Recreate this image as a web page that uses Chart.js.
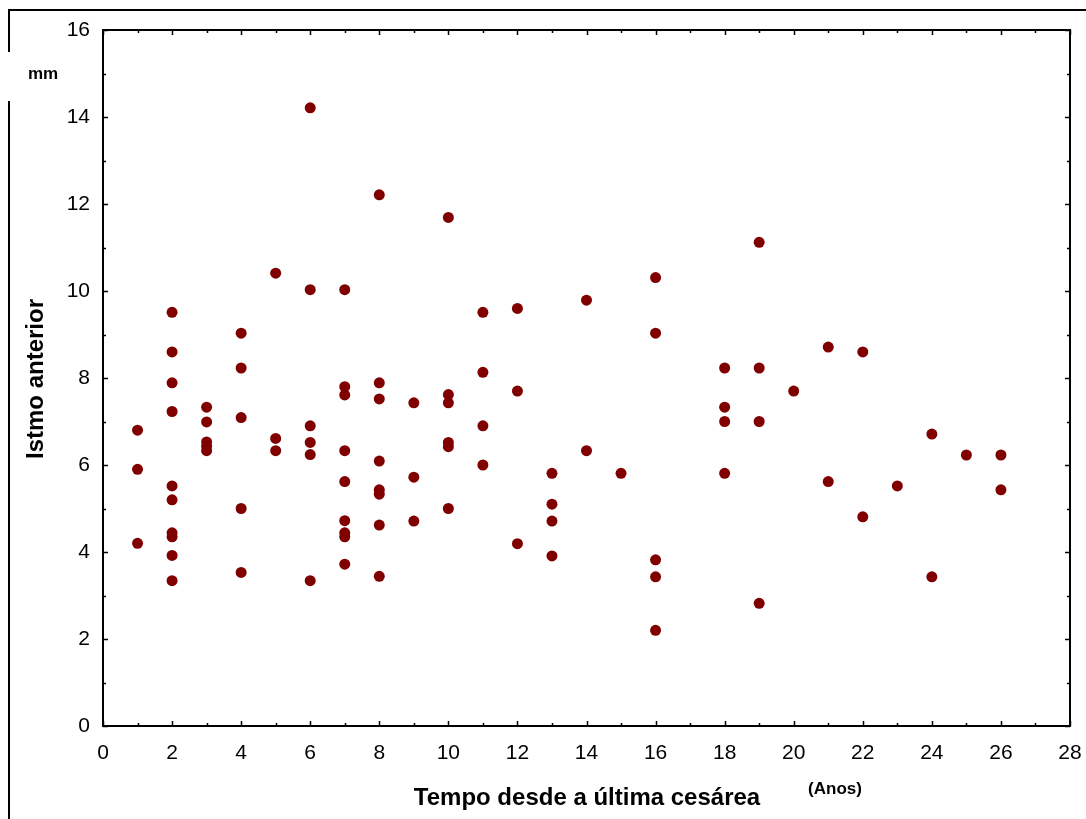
<!DOCTYPE html>
<html>
<head>
<meta charset="utf-8">
<script src="https://cdn.jsdelivr.net/npm/chart.js@4"></script>
<style>
  html, body { margin: 0; padding: 0; background: #fff; }
  #wrap { width: 1086px; height: 819px; }
</style>
</head>
<body>
<div id="wrap"><canvas id="grafico"></canvas></div>
<script>
// dados: tempo (anos) x istmo anterior (mm)
var tempoAnos = [
  1, 1, 1,
  2, 2, 2, 2, 2, 2, 2, 2, 2, 2,
  3, 3, 3, 3, 3,
  4, 4, 4, 4, 4,
  5, 5, 5,
  6, 6, 6, 6, 6, 6,
  7, 7, 7, 7, 7, 7, 7, 7, 7,
  8, 8, 8, 8, 8, 8, 8, 8,
  9, 9, 9,
  10, 10, 10, 10, 10, 10,
  11, 11, 11, 11,
  12, 12, 12,
  13, 13, 13, 13,
  14, 14,
  15,
  16, 16, 16, 16, 16,
  18, 18, 18, 18,
  19, 19, 19, 19,
  20,
  21, 21,
  22, 22,
  23,
  24, 24,
  25,
  26, 26
];
var istmoMm = [
  6.80, 5.90, 4.20,
  9.51, 8.60, 7.89, 7.23, 5.52, 5.20, 4.44, 4.35, 3.92, 3.34,
  7.33, 6.99, 6.53, 6.43, 6.33,
  9.03, 8.23, 7.09, 5.00, 3.53,
  10.41, 6.61, 6.33,
  14.21, 10.03, 6.90, 6.52, 6.24, 3.34,
  10.03, 7.80, 7.61, 6.33, 5.62, 4.72, 4.44, 4.35, 3.72,
  12.21, 7.89, 7.52, 6.09, 5.43, 5.33, 4.62, 3.44,
  7.43, 5.72, 4.71,
  11.69, 7.62, 7.43, 6.52, 6.42, 5.00,
  9.51, 8.13, 6.90, 6.00,
  9.60, 7.70, 4.19,
  5.81, 5.10, 4.71, 3.91,
  9.79, 6.33,
  5.81,
  10.31, 9.03, 3.82, 3.43, 2.20,
  8.23, 7.33, 7.00, 5.81,
  11.12, 8.23, 7.00, 2.82,
  7.70,
  8.71, 5.62,
  8.60, 4.81,
  5.52,
  6.71, 3.43,
  6.23,
  6.23, 5.43
];
var xTicks = [0, 2, 4, 6, 8, 10, 12, 14, 16, 18, 20, 22, 24, 26, 28];
var yTicks = [0, 2, 4, 6, 8, 10, 12, 14, 16];

var pontos = tempoAnos.map(function (x, i) {
    return { x: x, y: istmoMm[i] };
});

var fonte = '"Liberation Sans", Arial, sans-serif';

// moldura, ticks para dentro e titulos
var moldura = {
    id: 'moldura',
    beforeDatasetsDraw: function (chart) {
        var c = chart.ctx, a = chart.chartArea;
        var sx = chart.scales.x, sy = chart.scales.y;
        c.save();
        c.strokeStyle = '#000';
        c.lineWidth = 2;
        c.strokeRect(a.left, a.top, a.right - a.left, a.bottom - a.top);
        c.lineWidth = 1.5;
        c.beginPath();
        for (var v = 0; v <= 28; v++) {
            var px = Math.round(sx.getPixelForValue(v)) + 0.5;
            var t = (v % 2 === 0) ? 5 : 3;
            c.moveTo(px, a.bottom); c.lineTo(px, a.bottom - t);
            c.moveTo(px, a.top); c.lineTo(px, a.top + t);
        }
        for (var w = 0; w <= 16; w++) {
            var py = Math.round(sy.getPixelForValue(w)) + 0.5;
            var t2 = (w % 2 === 0) ? 5 : 3;
            c.moveTo(a.left, py); c.lineTo(a.left + t2, py);
            c.moveTo(a.right, py); c.lineTo(a.right - t2, py);
        }
        c.stroke();

        // linhas da moldura externa
        c.lineWidth = 2;
        c.beginPath();
        c.moveTo(9, 10); c.lineTo(1086, 10);
        c.moveTo(9, 9); c.lineTo(9, 52);
        c.moveTo(9, 101); c.lineTo(9, 819);
        c.stroke();
        c.restore();
    },
    afterDraw: function (chart) {
        var c = chart.ctx;
        c.save();
        c.fillStyle = '#000';
        c.textBaseline = 'middle';
        c.textAlign = 'center';

        c.font = 'bold 17px ' + fonte;
        c.fillText('mm', 43, 74);

        c.font = 'bold 24px ' + fonte;
        c.fillText('Tempo desde a última cesárea', 587, 798);

        c.font = 'bold 17px ' + fonte;
        c.fillText('(Anos)', 835, 789);

        c.translate(36, 379);
        c.rotate(-Math.PI / 2);
        c.font = 'bold 24px ' + fonte;
        c.fillText('Istmo anterior', 0, 0);
        c.restore();
    }
};

var ctx = document.getElementById('grafico').getContext('2d');

new Chart(ctx, {
    type: 'scatter',
    data: {
        datasets: [{
            data: pontos,
            backgroundColor: '#800000',
            borderColor: '#800000',
            borderWidth: 0,
            pointRadius: 5.5
        }]
    },
    options: {
        responsive: true,
        maintainAspectRatio: false,
        animation: false,
        layout: {
            padding: { top: 30, right: 16, left: 0, bottom: 0 }
        },
        plugins: {
            legend: { display: false },
            tooltip: { enabled: false }
        },
        scales: {
            x: {
                type: 'linear',
                min: 0,
                max: 28,
                afterFit: function (s) {
                    s.height = 93;
                    s.paddingLeft = 0;
                    s.paddingRight = 0;
                },
                afterBuildTicks: function (s) {
                    s.ticks = xTicks.map(function (v) { return { value: v }; });
                },
                grid: { display: false },
                border: { display: false },
                ticks: {
                    color: '#000',
                    font: { family: fonte, size: 21 },
                    padding: 7,
                    maxRotation: 0
                }
            },
            y: {
                min: 0,
                max: 16,
                afterFit: function (s) {
                    s.width = 103;
                    s.paddingTop = 0;
                    s.paddingBottom = 0;
                },
                afterBuildTicks: function (s) {
                    s.ticks = yTicks.map(function (v) { return { value: v }; });
                },
                grid: { display: false },
                border: { display: false },
                ticks: {
                    color: '#000',
                    font: { family: fonte, size: 21 },
                    padding: 5
                }
            }
        }
    },
    plugins: [moldura]
});
</script>
</body>
</html>
